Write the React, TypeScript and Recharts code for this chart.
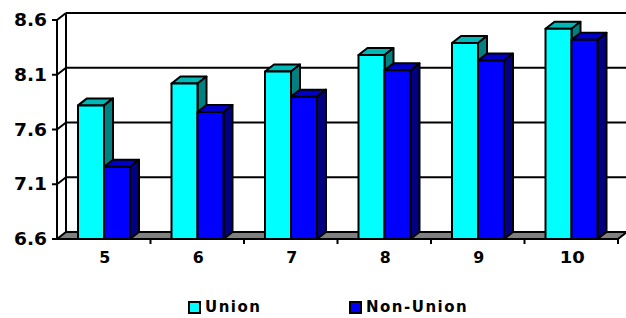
import React from "react";
import { BarChart, Bar, XAxis, YAxis, CartesianGrid } from "recharts";

const categories = ["5", "6", "7", "8", "9", "10"];
const unionValues = [7.82, 8.02, 8.13, 8.28, 8.39, 8.52];
const nonUnionValues = [7.26, 7.76, 7.9, 8.14, 8.23, 8.42];
const yTicks = [6.6, 7.1, 7.6, 8.1, 8.6];
const seriesNames = ["Union", "Non-Union"];
const seriesColors = ["#00FFFF", "#0000FF"];

const data = categories.map((name, i) => ({
  name,
  union: unionValues[i],
  nonUnion: nonUnionValues[i]
}));

const W = 626;
const H = 318;
const Y_AXIS_W = 57;
const X_AXIS_H = 79;
const margin = { top: 20, right: 8, bottom: 0, left: 0 };
const DX = 9;
const DY = 7;
const FONT = "'DejaVu Sans', Verdana, sans-serif";

// 3d looking bar: front face + top + right side
const bar3d = (topColor: string, sideColor: string) => (props: any) => {
  const { x, y, width: w, height: h, fill } = props;
  if (h == null || w == null) return null;
  return (
    <g stroke="#000" strokeWidth={2} strokeLinejoin="round">
      <polygon
        points={`${x},${y} ${x + w},${y} ${x + w + DX},${y - DY} ${x + DX},${y - DY}`}
        fill={topColor}
      />
      <polygon
        points={`${x + w},${y} ${x + w + DX},${y - DY} ${x + w + DX},${y + h - DY} ${x + w},${y + h}`}
        fill={sideColor}
      />
      <rect x={x} y={y} width={w} height={h} fill={fill} />
    </g>
  );
};

// back wall grid lines, floor and wall edges
const gridLine = (props: any) => {
  const { x1, x2, y1, index } = props;
  const bottom = H - X_AXIS_H;
  const top = margin.top;
  const parts: React.ReactNode[] = [];
  if (Math.abs(y1 - bottom) < 1.5) {
    const n = categories.length;
    const band = (x2 - x1) / n;
    parts.push(
      <polygon
        key="floor"
        points={`${x1},${y1} ${x2},${y1} ${x2 + DX},${y1 - DY} ${x1 + DX},${y1 - DY}`}
        fill="#808080"
        stroke="#000"
        strokeWidth={2}
      />
    );
    for (let k = 1; k <= n; k++) {
      const bx = x1 + k * band;
      parts.push(
        <line key={"t" + k} x1={bx} x2={bx} y1={y1} y2={y1 + 5} stroke="#000" strokeWidth={2} />
      );
    }
  } else {
    parts.push(
      <line key="d" x1={x1} y1={y1} x2={x1 + DX} y2={y1 - DY} stroke="#000" strokeWidth={2} />,
      <line key="h" x1={x1 + DX} y1={y1 - DY} x2={x2 + DX} y2={y1 - DY} stroke="#000" strokeWidth={2} />
    );
  }
  if (Math.abs(y1 - top) < 1.5) {
    parts.push(
      <line
        key="wall"
        x1={x1 + DX}
        x2={x1 + DX}
        y1={y1 - DY}
        y2={bottom - DY}
        stroke="#000"
        strokeWidth={2}
      />
    );
  }
  return <g key={"g" + index}>{parts}</g>;
};

const YTick = (props: any) => {
  const { x, y, payload } = props;
  return (
    <text
      x={x - 5}
      y={y}
      dy={6}
      textAnchor="end"
      fontFamily={FONT}
      fontWeight="bold"
      fontSize={17}
      textLength={33}
      lengthAdjust="spacingAndGlyphs"
      fill="#000"
    >
      {Number(payload.value).toFixed(1)}
    </text>
  );
};

const XTick = (props: any) => {
  const { x, y, payload } = props;
  const label = String(payload.value);
  return (
    <text
      x={x + 1}
      y={y + 24}
      textAnchor="middle"
      fontFamily={FONT}
      fontWeight="bold"
      fontSize={16}
      textLength={label.length * 11 + (label.length - 1) * 3}
      lengthAdjust="spacingAndGlyphs"
      fill="#000"
    >
      {label}
    </text>
  );
};

const legendLeft = [188, 349];

export default function App() {
  return (
    <div style={{ position: "absolute", left: 0, top: 0, width: W, height: H, background: "#fff" }}>
      <BarChart width={W} height={H} data={data} margin={margin} barGap={0} barSize={26}>
        <CartesianGrid vertical={false} horizontal={gridLine} />
        <XAxis
          dataKey="name"
          height={X_AXIS_H}
          axisLine={{ stroke: "#000", strokeWidth: 2 }}
          tickLine={false}
          tickSize={0}
          tickMargin={0}
          tick={<XTick />}
          interval={0}
        />
        <YAxis
          domain={[6.6, 8.6]}
          ticks={yTicks}
          allowDataOverflow
          axisLine={{ stroke: "#000", strokeWidth: 2 }}
          tickLine={{ stroke: "#000", strokeWidth: 2 }}
          tickSize={5}
          tickMargin={0}
          tick={<YTick />}
          width={Y_AXIS_W}
        />
        <Bar
          dataKey="union"
          name={seriesNames[0]}
          fill={seriesColors[0]}
          isAnimationActive={false}
          shape={bar3d("#00B8B8", "#008080")}
        />
        <Bar
          dataKey="nonUnion"
          name={seriesNames[1]}
          fill={seriesColors[1]}
          isAnimationActive={false}
          shape={bar3d("#0000C8", "#000080")}
        />
      </BarChart>
      {seriesNames.map((name, i) => (
        <div
          key={name}
          style={{
            position: "absolute",
            left: legendLeft[i],
            top: 298,
            display: "flex",
            alignItems: "center",
            fontFamily: FONT
          }}
        >
          <span
            style={{
              display: "inline-block",
              width: 9,
              height: 9,
              background: seriesColors[i],
              border: "2px solid #000",
              marginRight: 4
            }}
          />
          <span style={{ fontWeight: "bold", fontSize: 15, letterSpacing: 1.5, lineHeight: "18px" }}>
            {name}
          </span>
        </div>
      ))}
    </div>
  );
}
